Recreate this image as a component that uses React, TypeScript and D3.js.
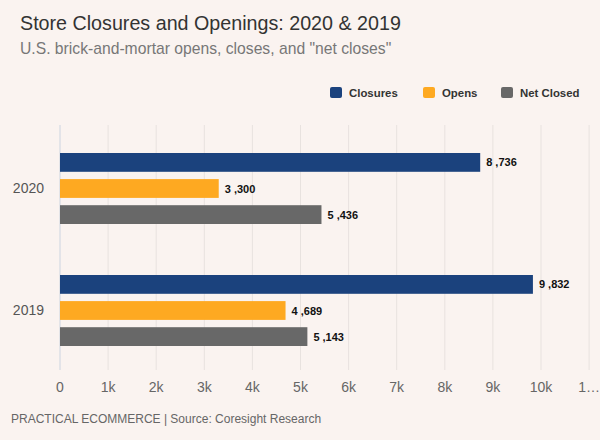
import React from "react";
import * as d3 from "d3";

const years = ["2020", "2019"];
const seriesNames = ["Closures", "Opens", "Net Closed"];
const closures = [8736, 9832];
const opens = [3300, 4689];
const netClosed = [5436, 5143];
const tickValues = [0, 1000, 2000, 3000, 4000, 5000, 6000, 7000, 8000, 9000, 10000, 11000];
const tickLabels = ["0", "1k", "2k", "3k", "4k", "5k", "6k", "7k", "8k", "9k", "10k", "1…"];
const colors = ["#1b427d", "#fea921", "#686868"];

const W = 600, H = 440;
const FONT = "'Liberation Sans', Arial, sans-serif";

export default function App() {
  const x = d3.scaleLinear().domain([0, 10000]).range([60, 541]);
  const y = d3.scaleBand().domain(years).range([127, 371]);
  const inner = d3.scaleBand().domain(seriesNames).range([26, 97]).paddingInner(0.28);
  const values = [closures, opens, netClosed];
  const fmt = (v: number) => {
    const s = String(v);
    return s.slice(0, s.length - 3) + " ," + s.slice(s.length - 3);
  };
  const legendX = [330, 423, 501];
  return (
    <svg width={W} height={H} style={{ position: "absolute", left: 0, top: 0, background: "#faf3f0" }}>
      <rect x={0} y={0} width={W} height={H} fill="#faf3f0" />
      <text x={20} y={29.5} fontSize={19.7} fill="#333" fontFamily={FONT}>Store Closures and Openings: 2020 &amp; 2019</text>
      <text x={20} y={53.5} fontSize={15.7} fill="#777" fontFamily={FONT}>U.S. brick-and-mortar opens, closes, and "net closes"</text>
      {seriesNames.map((n, i) => (
        <g key={n}>
          <rect x={legendX[i]} y={87} width={12} height={11} rx={2} fill={colors[i]} />
          <text x={legendX[i] + 19} y={97} fontSize={11.4} fontWeight="bold" fill="#333" fontFamily={FONT}>{n}</text>
        </g>
      ))}
      {tickValues.map((t) => (
        <line key={t} x1={x(t)} x2={x(t)} y1={125} y2={370} stroke={t === 0 ? "#ccd4e0" : "#e8e2df"} strokeWidth={1} />
      ))}
      {tickValues.map((t, i) => (
        <text key={"l" + t} x={x(t)} y={392} fontSize={14} fill="#666" textAnchor="middle" fontFamily={FONT}>{tickLabels[i]}</text>
      ))}
      {years.map((yr, yi) => (
        <g key={yr}>
          <text x={44} y={(y(yr) as number) + y.bandwidth() / 2 + 5} fontSize={14} fill="#555" textAnchor="end" fontFamily={FONT}>{yr}</text>
          {seriesNames.map((n, si) => {
            const by = (y(yr) as number) + (inner(n) as number);
            const v = values[si][yi];
            return (
              <g key={n}>
                <rect x={x(0)} y={by} width={x(v) - x(0)} height={inner.bandwidth()} fill={colors[si]} />
                <text x={x(v) + 6} y={by + inner.bandwidth() / 2 + 4} fontSize={11} fontWeight="bold" fill="#111" fontFamily={FONT}>{fmt(v)}</text>
              </g>
            );
          })}
        </g>
      ))}
      <text x={11} y={422.5} fontSize={12} fill="#666" fontFamily={FONT}>PRACTICAL ECOMMERCE | Source: Coresight Research</text>
    </svg>
  );
}
